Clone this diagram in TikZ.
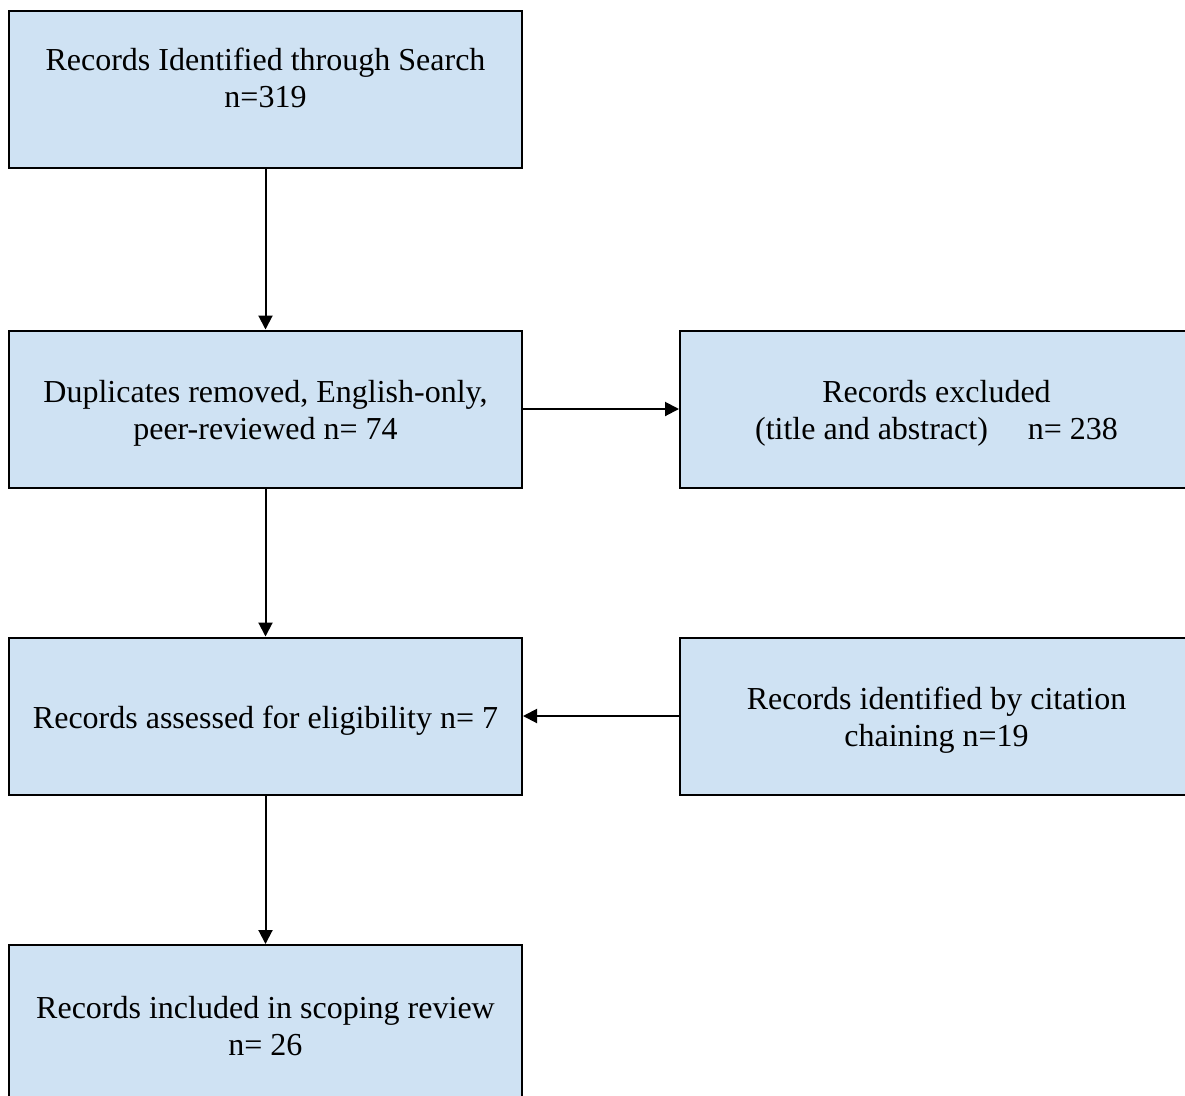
\documentclass[tikz,border=0pt]{standalone}
\usepackage{fontspec}
\setmainfont{Liberation Serif}
\usetikzlibrary{arrows.meta}
\definecolor{boxfill}{RGB}{207,226,243}
\tikzset{
  flowbox/.style={draw=black, line width=2pt, fill=boxfill, minimum width=513pt, minimum height=157pt, inner sep=0pt},
  plaintext/.style={inner sep=0pt, align=center, font=\fontsize{32}{37}\selectfont},
  flowarrow/.style={line width=2pt, -{Triangle[length=14pt,width=14pt]}}
}
\begin{document}
\begin{tikzpicture}[x=1pt,y=-1pt]
\clip (0,0) rectangle (1185,1095);
\fill[white] (0,0) rectangle (1185,1095);
\node[flowbox] (b1) at (265.5,89.5) {};
\node[flowbox] (b2) at (265.5,409) {};
\node[flowbox] (b3) at (265.5,716) {};
\node[flowbox] (b4) at (265.5,1023.5) {};
\node[flowbox] (r1) at (936.5,409) {};
\node[flowbox] (r2) at (936.5,716) {};
\node[plaintext] (t1) at (265.5,78) {Records Identified through Search\\n=319};
\node[plaintext] (t2) at (265.5,413.5) {Duplicates removed, English-only,\\peer-reviewed n= 74};
\node[plaintext] (t3) at (265.5,720.5) {Records assessed for eligibility n= 7};
\node[plaintext] (t4) at (265.5,1026.5) {Records included in scoping review\\n= 26};
\node[plaintext] (u1) at (936.5,413.5) {Records excluded\\(title and abstract)\hspace{1em} n= 238};
\node[plaintext] (u2) at (936.5,720.5) {Records identified by citation\\chaining n=19};
\draw[flowarrow] (b1.south) -- (b2.north);
\draw[flowarrow] (b2.south) -- (b3.north);
\draw[flowarrow] (b3.south) -- (b4.north);
\draw[flowarrow] (b2.east) -- (r1.west);
\draw[flowarrow] (r2.west) -- (b3.east);
\end{tikzpicture}
\end{document}
